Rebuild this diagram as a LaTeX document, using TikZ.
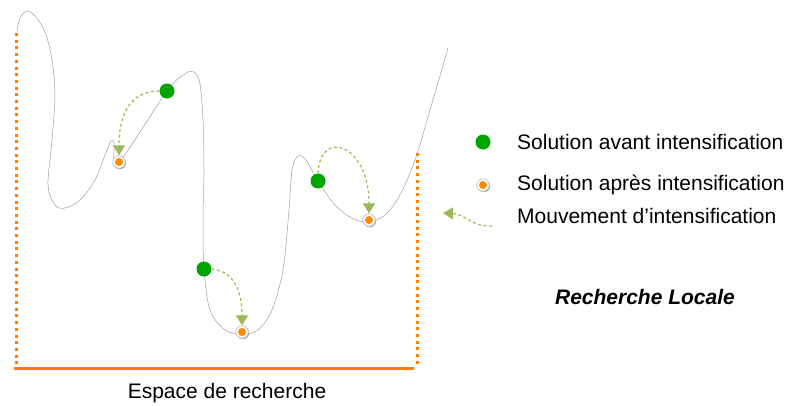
\documentclass[tikz,border=0pt]{standalone}
\usepackage{fontspec}
\setmainfont{Liberation Sans}
\usepackage{tikz}
\usetikzlibrary{arrows.meta, shadows, positioning}

\definecolor{espace}{RGB}{255,128,0}
\definecolor{avant}{RGB}{0,165,0}
\definecolor{apres}{RGB}{255,140,0}
\definecolor{mouv}{RGB}{155,187,89}

\begin{document}
\begin{tikzpicture}[
  x=1pt, y=-1pt,
  avantdot/.style={circle, inner sep=0pt, minimum size=15pt, fill=avant},
  apresdot/.style={circle, inner sep=0pt, minimum size=12.5pt, fill=white, draw=gray!45, line width=0.8pt,
    drop shadow={shadow xshift=0.9pt, shadow yshift=-1pt, fill=gray, opacity=0.7},
    path picture={\fill[apres] (path picture bounding box.center) circle (4pt);}},
  move/.style={mouv, dashed, dash pattern=on 3pt off 2.5pt, line width=1.2pt, -{Triangle[width=12pt, length=10pt]}},
  bord/.style={espace, line width=3pt, dash pattern=on 3pt off 3.7pt},
  label/.style={font=\fontsize{21}{25}\selectfont, anchor=west, inner sep=0pt}
]
  \useasboundingbox (0,0) rectangle (790,405);

  % Search space
  \draw[bord] (16,33) -- (16,366);
  \draw[bord] (417,153) -- (417,366);
  \draw[espace, line width=3pt] (14,368) -- (414,368);
  \node[font=\fontsize{21}{25}\selectfont] (espace) at (227,393) {Espace de recherche};

  % Landscape
  \draw[gray!75, line width=0.5pt] plot[smooth, tension=0.55] coordinates {
    (17,32) (20,18) (27,11) (35,16) (45,32) (52,60) (55,95) (52,140) (48,185)
    (55,205) (65,208) (80,200) (95,180) (107,150) (111,141) (114,143) (119,162)
    (167,91) (185,74) (194,72) (200,84) (203,120) (204,170) (203,220) (204,269)
    (210,310) (225,330) (242,334) (258,330) (272,310) (283,270) (289,210)
    (292,170) (298,156) (306,160) (318,181) (335,205) (352,218) (368,222)
    (385,215) (400,195) (415,160) (430,110) (448,48)};

  % Solutions
  \node[avantdot] (g1) at (167,91) {};
  \node[avantdot] (g2) at (204,269) {};
  \node[avantdot] (g3) at (318,181) {};
  \node[apresdot] (o1) at (119,162) {};
  \node[apresdot] (o2) at (242,332) {};
  \node[apresdot] (o3) at (369,220) {};

  % Moves
  \draw[move] (g1.west) .. controls +(-30,0) and +(0,-40) .. (o1.north);
  \draw[move] (g2.east) .. controls +(22,2) and +(0,-35) .. (o2.north);
  \draw[move] (g3.north) .. controls +(2,-45) and +(0,-70) .. (o3.north);

  % Legend
  \node[avantdot] (leg1) at (483,142) {};
  \node[label] (txt1) at (517,142) {Solution avant intensification};
  \node[apresdot] (leg2) at (483,185) {};
  \node[label] (txt2) at (517,185) {Solution après intensification};
  \coordinate (legA) at (492,226);
  \coordinate (legB) at (443,213);
  \draw[move] (legA) .. controls (472,227) and (465,214) .. (legB);
  \node[label] (txt3) at (517,216) {Mouvement d’intensification};

  \node[font=\fontsize{21}{25}\selectfont\bfseries\itshape] (titre) at (645,297) {Recherche Locale};
\end{tikzpicture}
\end{document}
